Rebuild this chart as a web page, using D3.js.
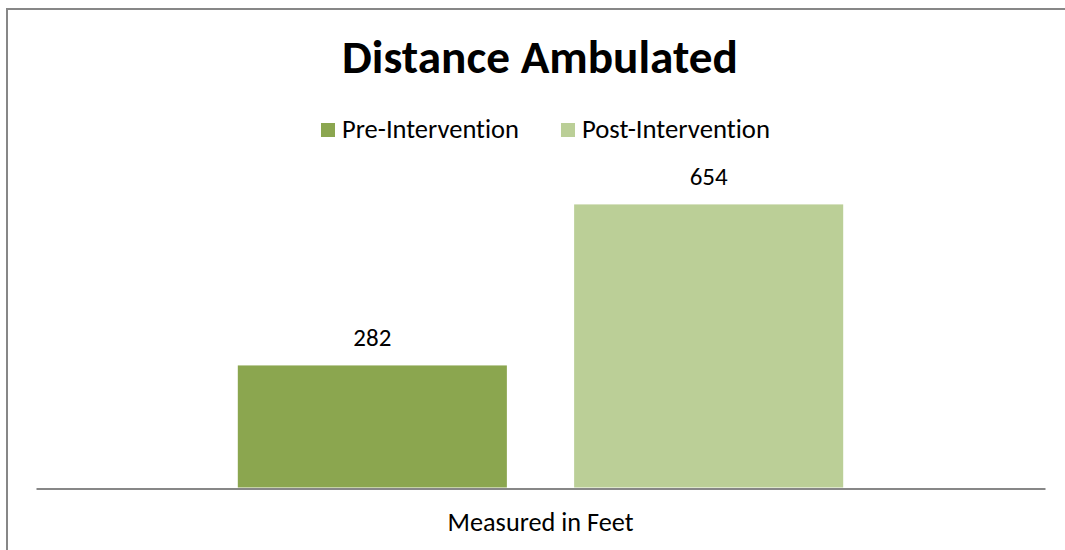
<!DOCTYPE html>
<html>
<head>
<meta charset="utf-8">
<script src="https://cdn.jsdelivr.net/npm/d3@7"></script>
<style>
  html, body { margin: 0; padding: 0; background: #fff; }
  svg { display: block; }
  text { font-family: Carlito, Calibri, Lato, "Open Sans", sans-serif; fill: #000; font-variant-ligatures: none; font-feature-settings: "liga" 0, "dlig" 0; }
</style>
</head>
<body>
<svg id="chart" width="1065" height="550"></svg>
<script>
// ---- data ----
const chartTitle = "Distance Ambulated";
const categories = ["Measured in Feet"];
const seriesNames = ["Pre-Intervention", "Post-Intervention"];
const seriesValues = [282, 654];
const seriesColors = ["#8ba64f", "#bbcf97"];
const yDomainMax = 700;

const svg = d3.select("#chart");

// fit text to a target width (style helper)
function fit(sel, targetWidth, startSize) {
  sel.attr("font-size", startSize);
  const w = sel.node().getComputedTextLength();
  if (w > 0) sel.attr("font-size", startSize * targetWidth / w);
  return sel;
}

// chart border
svg.append("rect")
  .attr("x", 7).attr("y", 9)
  .attr("width", 1200).attr("height", 700)
  .attr("fill", "none").attr("stroke", "#878787").attr("stroke-width", 2);

// scales
const x0 = d3.scaleBand().domain(categories).range([36, 1045]).padding(0);
const x1 = d3.scaleBand().domain(seriesNames)
  .range([0, x0.bandwidth()]).paddingInner(0.2).paddingOuter(0.6);
const y = d3.scaleLinear().domain([0, yDomainMax]).range([487.5, 184.5]);

// bars
const data = seriesNames.map((s, i) => ({ cat: categories[0], series: s, value: seriesValues[i], color: seriesColors[i] }));
const g = svg.append("g");
g.selectAll("rect.bar").data(data).join("rect")
  .attr("class", "bar")
  .attr("x", d => x0(d.cat) + x1(d.series))
  .attr("width", x1.bandwidth())
  .attr("y", d => y(d.value))
  .attr("height", d => y(0) - y(d.value))
  .attr("fill", d => d.color);

// value labels
g.selectAll("text.val").data(data).join("text")
  .attr("class", "val")
  .attr("x", d => x0(d.cat) + x1(d.series) + x1.bandwidth() / 2)
  .attr("y", d => y(d.value) - 19)
  .attr("text-anchor", "middle")
  .attr("font-size", 24)
  .text(d => d.value)
  .each(function () { fit(d3.select(this), 38, 24); });

// x axis line
const xAxis = d3.axisBottom(x0).tickSize(0).tickPadding(0);
const axG = svg.append("g").attr("transform", "translate(0,488.5)").call(xAxis);
axG.select(".domain").attr("stroke", "#878787").attr("stroke-width", 2);
axG.selectAll(".tick text")
  .attr("dy", null)
  .attr("y", 531 - 488.5)
  .attr("fill", "#000")
  .style("font-family", "Carlito, Calibri, Lato, 'Open Sans', sans-serif")
  .each(function () { fit(d3.select(this), 186, 24); });

// title
const t = svg.append("text")
  .attr("x", 540).attr("y", 73)
  .attr("text-anchor", "middle")
  .attr("font-weight", "bold")
  .text(chartTitle);
fit(t, 396, 46);

// legend
const legendX = [321, 561];
const leg = svg.append("g");
seriesNames.forEach((s, i) => {
  leg.append("rect")
    .attr("x", legendX[i]).attr("y", 123)
    .attr("width", 14).attr("height", 14)
    .attr("fill", seriesColors[i]);
  const lt = leg.append("text")
    .attr("x", legendX[i] + 21).attr("y", 138)
    .text(s);
  fit(lt, i === 0 ? 177 : 188, 24);
});
</script>
</body>
</html>
